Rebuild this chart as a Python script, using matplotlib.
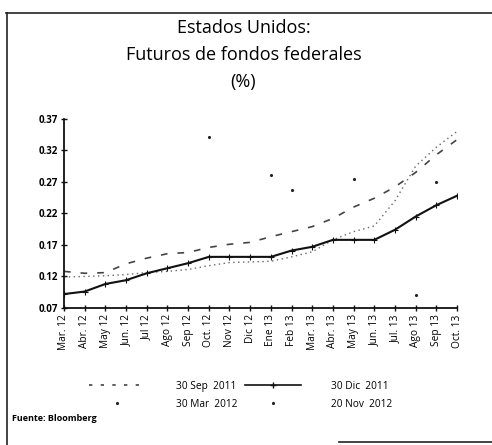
import numpy as np
import matplotlib
matplotlib.use("Agg")
import matplotlib.pyplot as plt
from matplotlib.lines import Line2D

months = ["Mar. 12", "Abr. 12", "May 12", "Jun. 12", "Jul 12", "Ago 12", "Sep 12",
          "Oct. 12", "Nov 12", "Dic 12", "Ene 13", "Feb 13", "Mar. 13", "Abr. 13",
          "May 13", "Jun. 13", "Jul. 13", "Ago 13", "Sep 13", "Oct. 13"]

sep_2011 = [0.128, 0.125, 0.126, 0.140, 0.149, 0.156, 0.158, 0.166, 0.171, 0.174,
            0.183, 0.191, 0.199, 0.212, 0.230, 0.244, 0.262, 0.285, 0.313, 0.337]
dic_2011 = [0.092, 0.096, 0.108, 0.114, 0.125, 0.133, 0.141, 0.151, 0.151, 0.151,
            0.151, 0.161, 0.167, 0.178, 0.178, 0.178, 0.194, 0.215, 0.233, 0.248]
mar_2012 = [0.119, 0.120, 0.121, 0.123, 0.126, 0.128, 0.131, 0.137, 0.142, 0.143,
            0.144, 0.151, 0.159, 0.178, 0.191, 0.200, 0.240, 0.295, 0.325, 0.350]
nov_2012 = [np.nan, np.nan, np.nan, np.nan, np.nan, np.nan, np.nan, 0.341, np.nan, np.nan,
            0.281, 0.257, np.nan, np.nan, 0.275, np.nan, np.nan, 0.090, 0.270, np.nan]

yticks = [0.07, 0.12, 0.17, 0.22, 0.27, 0.32, 0.37]

plt.rcParams['font.family'] = ['Open Sans', 'DejaVu Sans']

fig = plt.figure(figsize=(4.92, 4.45), dpi=100)
ax = fig.add_axes([0.130, 0.308, 0.799, 0.425])

x = np.arange(len(months))
ax.plot(x, sep_2011, color='#444444', lw=1.2, ls=(0, (4, 6)))
ax.plot(x, mar_2012, color='#666666', lw=1.0, ls=(0, (1, 2.5)))
ax.plot(x, dic_2011, color='#111111', lw=1.5, marker='+', ms=5, mew=0.8)
ax.plot(x, nov_2012, color='#222222', lw=0, marker='.', ms=2.5)

ax.set_xlim(0, len(months) - 1)
ax.set_ylim(0.07, 0.37)
ax.set_xticks(x)
ax.set_xticklabels(months, rotation=90, fontsize=7.3)
ax.set_yticks(yticks)
ax.set_yticklabels([f"{v:.2f}" for v in yticks], fontsize=7, fontweight='bold')
for s in ['top', 'right']:
    ax.spines[s].set_visible(False)
for s in ['left', 'bottom']:
    ax.spines[s].set_linewidth(1.3)
    ax.spines[s].set_color('#111111')
ax.tick_params(axis='both', direction='inout', length=5, width=1, color='#111111', pad=2)

fig.text(0.495, 0.937, "Estados Unidos:", ha='center', va='center', fontsize=13)
fig.text(0.495, 0.876, "Futuros de fondos federales", ha='center', va='center', fontsize=13)
fig.text(0.495, 0.815, "(%)", ha='center', va='center', fontsize=13)

handles = [Line2D([], [], color='#444444', lw=1.2, ls=(0, (2, 5))),
           Line2D([], [], color='#222222', lw=0, marker='.', ms=2.5),
           Line2D([], [], color='#111111', lw=1.2, marker='+', ms=5, markevery=[1]),
           Line2D([], [], color='#222222', lw=0, marker='.', ms=2.5)]
labels = ["30 Sep  2011", "30 Mar  2012", "30 Dic  2011", "20 Nov  2012"]
leg = fig.legend(handles, labels, loc='center', bbox_to_anchor=(0.49, 0.112),
                 ncol=2, frameon=False, fontsize=7.3, handlelength=5.5,
                 columnspacing=0.8, labelspacing=0.7, handletextpad=3.0)

fig.text(0.025, 0.06, "Fuente: Bloomberg", ha='left', va='center', fontsize=6.5, fontweight='bold')

# frame
fig.add_artist(Line2D([0.012, 1.0], [0.971, 0.971], color='#222222', lw=1.2, transform=fig.transFigure))
fig.add_artist(Line2D([0.014, 0.014], [0.0, 0.971], color='#222222', lw=1.2, transform=fig.transFigure))
fig.add_artist(Line2D([0.69, 1.0], [0.007, 0.007], color='#222222', lw=1.2, transform=fig.transFigure))

fig.savefig("out.png", dpi=100)
